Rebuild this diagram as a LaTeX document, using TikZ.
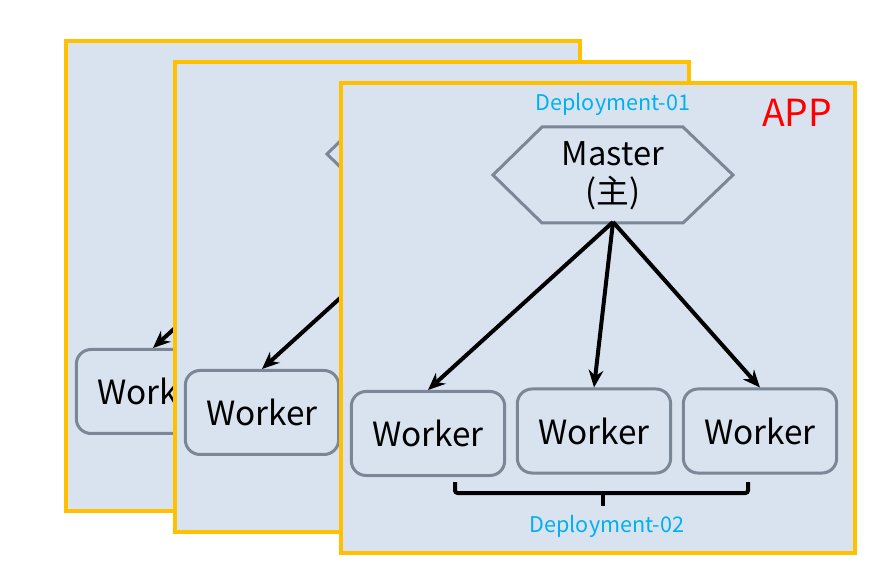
\documentclass[tikz,border=0pt]{standalone}
\usepackage{fontspec}
\setmainfont{Noto Sans CJK SC}
\usetikzlibrary{arrows.meta}
\definecolor{panelfill}{HTML}{D9E3EF}
\definecolor{appyellow}{HTML}{FFC000}
\definecolor{boxgray}{HTML}{7B8797}
\definecolor{deploycyan}{HTML}{00B0F0}
% hexagon round the master, in the picture's units
\newcommand{\masterhex}{\draw[hexa] (493,175) -- (542,127) -- (683,127) -- (733,175)
	-- (683,223) -- (542,223) -- cycle;}
\begin{document}
\begin{tikzpicture}[x=0.75pt, y=-0.75pt,
		panel/.style={draw=appyellow, line width=3pt, fill=panelfill},
		hexa/.style={draw=boxgray, line width=2.25pt},
		master/.style={align=center, inner sep=0pt, font=\fontsize{24.5}{28.5}\selectfont},
		worker/.style={draw=boxgray, line width=2.25pt, rounded corners=11pt,
			minimum width=115pt, minimum height=63pt, inner sep=0pt,
			font=\fontsize{25}{30}\selectfont},
		link/.style={line width=3pt, -{Stealth[length=13pt, width=11pt]}},
		brace/.style={line width=3pt, rounded corners=2pt},
		deploy/.style={text=deploycyan, font=\fontsize{16.2}{19}\selectfont}
		]
	\useasboundingbox (0,0) rectangle (889,573);
	% the two copies behind, only what shows of them
	\foreach \dx/\dy/\p in {-275/-42/back, -166/-21/mid} {
		\begin{scope}[shift={(\dx,\dy)}]
			\draw[panel] (341,83) rectangle (855,553);
			\masterhex
			\coordinate (\p-tip) at (613,222);
			\node[worker] (\p-w1) at (428,433.5) {Worker};
			\draw[link] (\p-tip) -- (\p-w1.north);
		\end{scope}
	}
	% front copy
	\draw[panel] (341,83) rectangle (855,553);
	\masterhex
	\node[master] (master) at (613,176) {Master\\(主)};
	\coordinate (mtip) at (613,222);
	\node[worker] (w1) at (428,433.5) {Worker};
	\node[worker] (w2) at (594,431) {Worker};
	\node[worker] (w3) at (760,431) {Worker};
	\foreach \w in {w1,w2,w3}
		\draw[link] (mtip) -- (\w.north);
	\node[deploy] (dep1) at (613,104) {Deployment-01};
	\node[text=red, font=\fontsize{28}{32}\selectfont] (app) at (797,113) {APP};
	% brace under the workers
	\coordinate (bl) at (455,482);
	\coordinate (br) at (748,482);
	\coordinate (bm) at (603,493);
	\draw[brace] (bl) -- (455,493) -- (748,493) -- (br);
	\draw[brace] (bm) -- (603,506);
	\node[deploy] (dep2) at (607,526) {Deployment-02};
\end{tikzpicture}
\end{document}
